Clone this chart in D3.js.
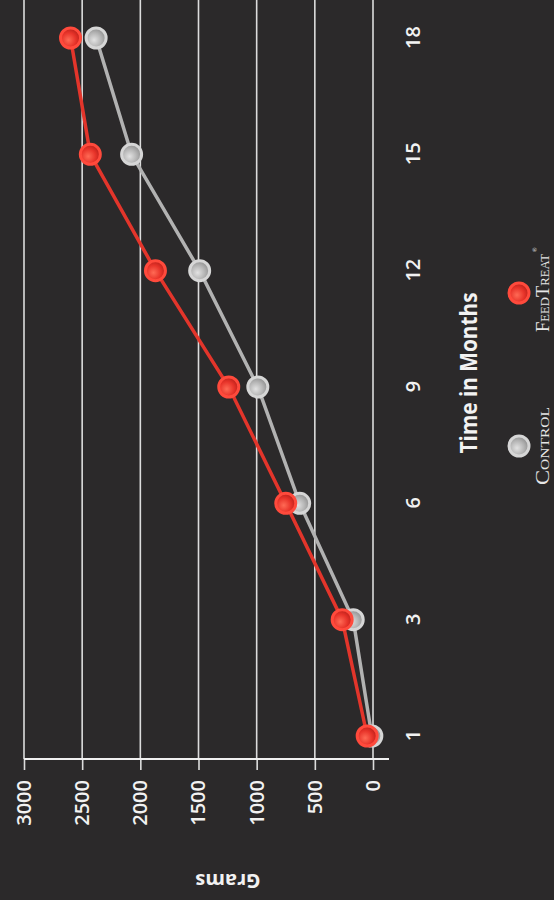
<!DOCTYPE html>
<html>
<head>
<meta charset="utf-8">
<script src="https://cdn.jsdelivr.net/npm/d3@7"></script>
<style>
  html, body { margin: 0; padding: 0; background: #2b292a; }
  svg { display: block; }
</style>
</head>
<body>
<div id="chart"></div>
<script>
// chart values
const months = ["1", "3", "6", "9", "12", "15", "18"];
const controlGrams = [10, 170, 630, 990, 1490, 2075, 2380];
const feedTreatGrams = [50, 265, 750, 1240, 1870, 2430, 2600];
const gramTicks = [0, 500, 1000, 1500, 2000, 2500, 3000];
const seriesNames = ["Control", "FeedTreat"];

const width = 554, height = 900;
// the whole chart is drawn in a normal frame and turned a quarter turn counter-clockwise
const W = height, H = width;

const svg = d3.select("#chart").append("svg")
  .attr("width", width)
  .attr("height", height)
  .style("background-color", "#2b292a");

const defs = svg.append("defs");
function ballGradient(id, light, mid, dark) {
  const g = defs.append("radialGradient").attr("id", id)
    .attr("cx", "40%").attr("cy", "40%").attr("r", "65%");
  g.append("stop").attr("offset", "0%").attr("stop-color", light);
  g.append("stop").attr("offset", "55%").attr("stop-color", mid);
  g.append("stop").attr("offset", "100%").attr("stop-color", dark);
}
ballGradient("gGray", "#e2e2e2", "#b4b4b4", "#8a8a8a");
ballGradient("gRed", "#ff6a55", "#e8342a", "#b41d18");

const g = svg.append("g")
  .attr("transform", `translate(0, ${height}) rotate(-90)`);

const axisU = 141;     // position of the grams axis in the turned frame
const xScale = d3.scalePoint().domain(months).range([164, 862]);
const yScale = d3.scaleLinear().domain([0, 3000]).range([373, 24]);

// grid lines
g.append("g").selectAll("line")
  .data(gramTicks)
  .enter().append("line")
  .attr("x1", axisU).attr("x2", W)
  .attr("y1", d => yScale(d)).attr("y2", d => yScale(d))
  .attr("stroke", "#dcdcdc")
  .attr("stroke-width", 1.6);

// grams axis
const yAxis = g.append("g")
  .attr("transform", `translate(${axisU},0)`)
  .call(d3.axisLeft(yScale).tickValues(gramTicks).tickFormat(d3.format("d")).tickSize(11).tickPadding(10));
yAxis.select(".domain").remove();
yAxis.append("line")
  .attr("x1", 0).attr("x2", 0)
  .attr("y1", yScale(3000)).attr("y2", 389)
  .attr("stroke", "#f0f0f0").attr("stroke-width", 2.2);
yAxis.selectAll(".tick line").attr("stroke", "#dcdcdc").attr("stroke-width", 1.6);
yAxis.selectAll("text")
  .attr("fill", "#f2f2f2")
  .attr("font-family", "Open Sans")
  .attr("font-weight", 600)
  .attr("font-size", 20);

// month axis
const xAxis = g.append("g")
  .attr("transform", `translate(0,389)`)
  .call(d3.axisBottom(xScale).tickSize(0).tickPadding(17));
xAxis.select(".domain").remove();
xAxis.selectAll("text")
  .attr("fill", "#f2f2f2")
  .attr("font-family", "Open Sans")
  .attr("font-weight", 600)
  .attr("font-size", 20);

// axis titles
g.append("text")
  .attr("transform", `translate(26, 228) rotate(-90)`)
  .attr("text-anchor", "middle")
  .attr("fill", "#f2f2f2")
  .attr("font-family", "Open Sans")
  .attr("font-weight", 700)
  .attr("font-size", 20)
  .text("Grams");

g.append("text")
  .attr("x", 527).attr("y", 477)
  .attr("text-anchor", "middle")
  .attr("fill", "#f2f2f2")
  .attr("font-family", "Open Sans")
  .attr("font-weight", 700)
  .attr("font-size", 24)
  .attr("textLength", 161)
  .attr("lengthAdjust", "spacingAndGlyphs")
  .text("Time in Months");

// series
const line = d3.line()
  .x((d, i) => xScale(months[i]))
  .y(d => yScale(d));

const series = [
  {name: seriesNames[0], values: controlGrams, stroke: "#b2b2b2", ring: "#d6d6d6", fill: "url(#gGray)"},
  {name: seriesNames[1], values: feedTreatGrams, stroke: "#e3352b", ring: "#ff4a3c", fill: "url(#gRed)"}
];

series.forEach(s => {
  g.append("path")
    .datum(s.values)
    .attr("d", line)
    .attr("fill", "none")
    .attr("stroke", s.stroke)
    .attr("stroke-width", 3.5);
});

series.forEach(s => {
  g.append("g").selectAll("circle")
    .data(s.values)
    .enter().append("circle")
    .attr("cx", (d, i) => xScale(months[i]))
    .attr("cy", d => yScale(d))
    .attr("r", 10)
    .attr("fill", s.fill)
    .attr("stroke", s.ring)
    .attr("stroke-width", 3);
});

// legend
const legendU = [454, 607];
series.forEach((s, i) => {
  g.append("circle")
    .attr("cx", legendU[i]).attr("cy", 519)
    .attr("r", 10)
    .attr("fill", s.fill)
    .attr("stroke", s.ring)
    .attr("stroke-width", 3);
  g.append("text")
    .attr("x", legendU[i]).attr("y", 549)
    .attr("text-anchor", "middle")
    .attr("fill", "#e6e6e6")
    .attr("font-family", "Liberation Serif")
    .attr("font-size", 19)
    .style("font-variant", "small-caps")
    .attr("textLength", 78)
    .attr("lengthAdjust", "spacingAndGlyphs")
    .text(s.name);
});
g.append("text")
  .attr("x", 648).attr("y", 537)
  .attr("fill", "#e6e6e6")
  .attr("font-family", "Liberation Serif")
  .attr("font-size", 6)
  .text("®");
</script>
</body>
</html>
